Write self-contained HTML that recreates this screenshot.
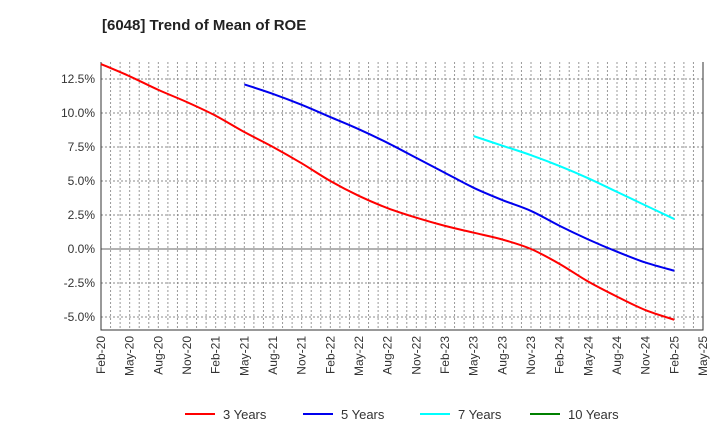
<!DOCTYPE html>
<html><head><meta charset="utf-8"><style>
body{margin:0;background:#fff;font-family:"Liberation Sans",sans-serif}
</style></head><body>
<svg id="c" width="720" height="440" xmlns="http://www.w3.org/2000/svg" font-family="Liberation Sans, sans-serif">
<text x="102" y="30" font-size="15" font-weight="bold" fill="#222">[6048]  Trend of Mean of ROE</text>
<g id="grid"></g><g id="axes"></g><g id="series"></g><g id="legend"></g>
</svg>
<script>
const xLabels=["Feb-20","May-20","Aug-20","Nov-20","Feb-21","May-21","Aug-21","Nov-21","Feb-22","May-22","Aug-22","Nov-22","Feb-23","May-23","Aug-23","Nov-23","Feb-24","May-24","Aug-24","Nov-24","Feb-25","May-25"];
const yTicks=[-5,-2.5,0,2.5,5,7.5,10,12.5];
const s3=[13.6,12.7,11.7,10.8,9.8,8.6,7.5,6.3,5.0,3.9,3.0,2.3,1.7,1.2,0.7,0.0,-1.1,-2.4,-3.5,-4.5,-5.2];
const s5=[12.1,11.4,10.6,9.7,8.8,7.8,6.7,5.6,4.5,3.6,2.8,1.7,0.7,-0.2,-1.0,-1.6];
const s7=[8.3,7.6,6.9,6.1,5.2,4.2,3.2,2.2];
const s10=[];
const ns="http://www.w3.org/2000/svg";
const L=101,R=703,T=62,B=330;
const x=q=>L+(R-L)*q/21;
const y=v=>249-v*(249-215)/2.5;
function mk(t,a,p){const e=document.createElementNS(ns,t);for(const k in a)e.setAttribute(k,a[k]);p.appendChild(e);return e;}
const g=document.getElementById('grid'),ax=document.getElementById('axes'),sg=document.getElementById('series'),lg=document.getElementById('legend');
for(let m=1;m<63;m++){const e=mk('line',{x1:L+(R-L)*m/63,x2:L+(R-L)*m/63,y1:T,y2:B,stroke:'#999','stroke-dasharray':'2,2','stroke-width':1},g);

}
yTicks.forEach(v=>{const e=mk('line',{x1:L,x2:R,y1:y(v),y2:y(v),stroke:v===0?'#666':'#888','stroke-dasharray':v===0?'none':'2,2','stroke-width':1},g);


const t=mk('text',{x:L-6,y:y(v)+4,'text-anchor':'end','font-size':12,fill:'#333'},ax);t.textContent=v.toFixed(1)+'%';

});
const b=mk('path',{d:`M${L},${T}V${B}H${R}V${T}`,fill:'none',stroke:'#333','stroke-width':1},ax);


xLabels.forEach((l,i)=>{const t=mk('text',{transform:`translate(${x(i)+4},${B+6}) rotate(-90)`,'text-anchor':'end','font-size':12,fill:'#333'},ax);t.textContent=l;

});
function line(d,off,c,n){if(!d.length)return;const p=d.map((v,i)=>[x(i+off),y(v)]);let s=`M${p[0][0]},${p[0][1]}`;
for(let i=1;i<p.length;i++){const p0=p[i-2]||p[i-1],p1=p[i-1],p2=p[i],p3=p[i+1]||p[i];
s+=`C${p1[0]+(p2[0]-p0[0])/6},${p1[1]+(p2[1]-p0[1])/6} ${p2[0]-(p3[0]-p1[0])/6},${p2[1]-(p3[1]-p1[1])/6} ${p2[0]},${p2[1]}`;}
const e=mk('path',{d:s,fill:'none',stroke:c,'stroke-width':2},sg);

}
line(s3,0,'#ff0000','series-3-years');line(s5,5,'#0000ee','series-5-years');line(s7,13,'#00ffff','series-7-years');line(s10,16,'#008000','series-10-years');
[['3 Years','#ff0000',185],['5 Years','#0000ee',303],['7 Years','#00ffff',420],['10 Years','#008000',530]].forEach(([n,c,lx])=>{
const e=mk('line',{x1:lx,x2:lx+30,y1:414,y2:414,stroke:c,'stroke-width':2},lg);


const t=mk('text',{x:lx+38,y:419,'font-size':13,fill:'#333'},lg);t.textContent=n;

});
</script>
</body></html>
